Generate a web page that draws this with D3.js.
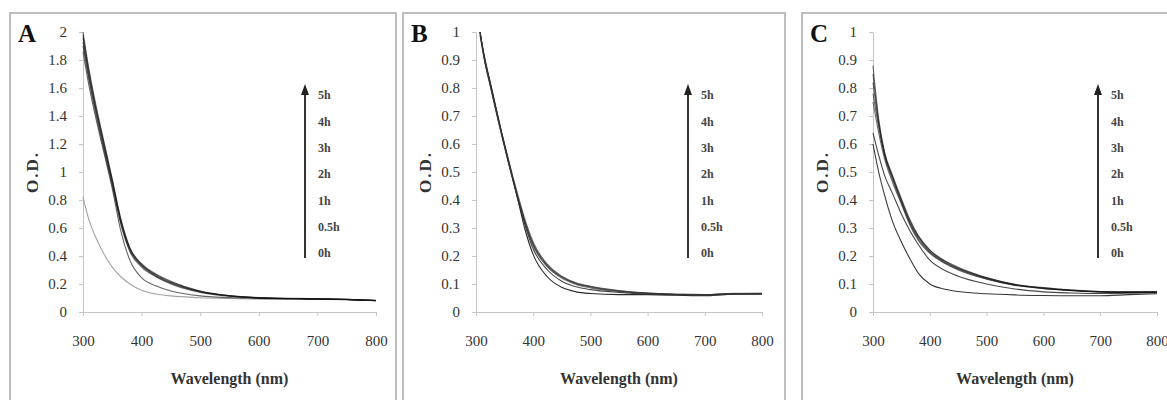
<!DOCTYPE html>
<html>
<head>
<meta charset="utf-8">
<script src="https://cdn.jsdelivr.net/npm/d3@7"></script>
<style>
  body { margin: 0; background: #fff; }
  svg { display: block; }
  svg text { font-family: "Liberation Serif", "Times New Roman", Times, serif; }
</style>
</head>
<body>
<div id="chart"></div>
<script>
const hours = ["0h", "0.5h", "1h", "2h", "3h", "4h", "5h"];
const xTicks = [300, 400, 500, 600, 700, 800];
const yTicksA = [0, 0.2, 0.4, 0.6, 0.8, 1, 1.2, 1.4, 1.6, 1.8, 2];
const yTicksBC = [0, 0.1, 0.2, 0.3, 0.4, 0.5, 0.6, 0.7, 0.8, 0.9, 1];

// panel A, one row per hour (0h .. 5h)
const wavelengthA = [300, 310, 320, 335, 350, 365, 380, 400, 425, 450, 500, 550, 600, 700, 750, 800];
const odA = [
  [0.82, 0.66, 0.55, 0.42, 0.32, 0.25, 0.2, 0.155, 0.128, 0.115, 0.102, 0.096, 0.092, 0.09, 0.088, 0.082],
  [1.86, 1.62, 1.42, 1.15, 0.88, 0.57, 0.37, 0.245, 0.185, 0.15, 0.115, 0.103, 0.097, 0.092, 0.088, 0.08],
  [1.9, 1.66, 1.45, 1.17, 0.9, 0.62, 0.43, 0.32, 0.25, 0.2, 0.14, 0.112, 0.1, 0.093, 0.089, 0.08],
  [1.93, 1.68, 1.47, 1.19, 0.92, 0.63, 0.44, 0.33, 0.255, 0.205, 0.143, 0.114, 0.101, 0.093, 0.089, 0.081],
  [1.96, 1.7, 1.49, 1.2, 0.93, 0.64, 0.45, 0.335, 0.26, 0.21, 0.146, 0.115, 0.102, 0.094, 0.09, 0.082],
  [1.98, 1.72, 1.5, 1.22, 0.94, 0.65, 0.455, 0.34, 0.265, 0.215, 0.148, 0.116, 0.102, 0.094, 0.09, 0.082],
  [2.0, 1.74, 1.52, 1.23, 0.95, 0.66, 0.46, 0.345, 0.27, 0.22, 0.15, 0.117, 0.103, 0.095, 0.09, 0.083]
];

// panel B
const wavelengthB = [307, 315, 325, 335, 345, 355, 365, 375, 385, 400, 425, 450, 475, 500, 550, 600, 700, 750, 800];
const odB = [
  [1.0, 0.91, 0.82, 0.73, 0.64, 0.555, 0.47, 0.385, 0.3, 0.205, 0.125, 0.088, 0.072, 0.066, 0.062, 0.062, 0.058, 0.064, 0.064],
  [1.0, 0.905, 0.815, 0.725, 0.635, 0.55, 0.47, 0.39, 0.315, 0.225, 0.15, 0.11, 0.09, 0.08, 0.07, 0.064, 0.06, 0.064, 0.065],
  [0.99, 0.9, 0.81, 0.72, 0.63, 0.545, 0.465, 0.39, 0.32, 0.235, 0.16, 0.12, 0.098, 0.086, 0.073, 0.066, 0.061, 0.065, 0.065],
  [1.0, 0.9, 0.81, 0.72, 0.635, 0.55, 0.47, 0.395, 0.325, 0.24, 0.163, 0.123, 0.1, 0.088, 0.074, 0.067, 0.061, 0.065, 0.066],
  [0.99, 0.895, 0.805, 0.715, 0.63, 0.55, 0.47, 0.395, 0.325, 0.24, 0.165, 0.125, 0.102, 0.09, 0.075, 0.067, 0.062, 0.066, 0.066],
  [1.0, 0.9, 0.81, 0.72, 0.635, 0.555, 0.475, 0.4, 0.33, 0.245, 0.168, 0.127, 0.103, 0.091, 0.076, 0.068, 0.062, 0.066, 0.067],
  [1.0, 0.905, 0.815, 0.725, 0.64, 0.56, 0.48, 0.405, 0.335, 0.25, 0.17, 0.128, 0.104, 0.092, 0.077, 0.068, 0.062, 0.067, 0.067]
];

// panel C
const wavelengthC = [300, 310, 320, 335, 350, 365, 380, 400, 425, 450, 500, 550, 600, 650, 700, 750, 800];
const odC = [
  [0.6, 0.5, 0.42, 0.32, 0.25, 0.19, 0.138, 0.1, 0.082, 0.073, 0.065, 0.061, 0.059, 0.058, 0.058, 0.062, 0.065],
  [0.64, 0.56, 0.49, 0.42, 0.35, 0.29, 0.24, 0.185, 0.15, 0.128, 0.1, 0.082, 0.072, 0.068, 0.066, 0.067, 0.069],
  [0.75, 0.64, 0.55, 0.46, 0.385, 0.31, 0.255, 0.21, 0.175, 0.15, 0.117, 0.095, 0.083, 0.076, 0.071, 0.07, 0.07],
  [0.78, 0.66, 0.56, 0.47, 0.39, 0.315, 0.26, 0.213, 0.178, 0.153, 0.119, 0.096, 0.084, 0.077, 0.072, 0.07, 0.071],
  [0.82, 0.67, 0.565, 0.475, 0.395, 0.32, 0.265, 0.216, 0.18, 0.155, 0.12, 0.097, 0.085, 0.077, 0.072, 0.071, 0.071],
  [0.85, 0.68, 0.57, 0.48, 0.4, 0.325, 0.27, 0.22, 0.183, 0.157, 0.122, 0.098, 0.086, 0.078, 0.073, 0.071, 0.072],
  [0.88, 0.69, 0.575, 0.485, 0.405, 0.33, 0.272, 0.222, 0.185, 0.16, 0.123, 0.099, 0.087, 0.078, 0.073, 0.072, 0.072]
];

const width = 1167, height = 400;
const plotTop = 32, plotBottom = 312;

const panels = [
  { letter: "A", wl: wavelengthA, od: odA, yMax: 2, yTicks: yTicksA,
    frame: [10, 13, 386, 400], x0: 83, x1: 376, arrowX: 305,
    colors: ["#999", "#555", "#111", "#111", "#111", "#111", "#111"] },
  { letter: "B", wl: wavelengthB, od: odB, yMax: 1, yTicks: yTicksBC,
    frame: [403, 13, 382, 400], x0: 476, x1: 762, arrowX: 688,
    colors: ["#111", "#333", "#333", "#333", "#333", "#333", "#333"] },
  { letter: "C", wl: wavelengthC, od: odC, yMax: 1, yTicks: yTicksBC,
    frame: [802, 13, 380, 400], x0: 873, x1: 1157, arrowX: 1098,
    colors: ["#222", "#333", "#111", "#111", "#111", "#111", "#111"] }
];

const svg = d3.select("#chart")
  .append("svg")
  .attr("width", width)
  .attr("height", height);

panels.forEach((p) => {
  svg.append("rect")
    .attr("x", p.frame[0])
    .attr("y", p.frame[1])
    .attr("width", p.frame[2])
    .attr("height", p.frame[3])
    .attr("fill", "none")
    .attr("stroke", "#b8b8b8")
    .attr("stroke-width", 1.8);

  const x = d3.scaleLinear().domain([300, 800]).range([p.x0, p.x1]);
  const y = d3.scaleLinear().domain([0, p.yMax]).range([plotBottom, plotTop]);

  const gy = svg.append("g")
    .attr("transform", `translate(${p.x0},0)`)
    .call(d3.axisLeft(y).tickValues(p.yTicks).tickSize(4).tickSizeOuter(0)
      .tickPadding(12).tickFormat(d3.format("~g")))
    .attr("font-family", null)
    .attr("font-size", 15);
  gy.select(".domain").attr("stroke", "#c4c4c4");
  gy.selectAll(".tick line").attr("stroke", "#c4c4c4");
  gy.selectAll(".tick text").attr("fill", "#333");

  const gx = svg.append("g")
    .attr("transform", `translate(0,${plotBottom})`)
    .call(d3.axisBottom(x).tickValues(xTicks).tickSize(4).tickSizeOuter(0).tickPadding(19))
    .attr("font-family", null)
    .attr("font-size", 15);
  gx.select(".domain").attr("stroke", "#c4c4c4");
  gx.selectAll(".tick line").attr("stroke", "#c4c4c4");
  gx.selectAll(".tick text").attr("fill", "#333");

  const line = d3.line()
    .x((d, i) => x(p.wl[i]))
    .y((d) => y(d))
    .curve(d3.curveMonotoneX);

  svg.append("g")
    .selectAll("path")
    .data(p.od)
    .enter()
    .append("path")
    .attr("d", line)
    .attr("fill", "none")
    .attr("stroke", (d, i) => p.colors[i])
    .attr("stroke-width", 1.1)
    .attr("stroke-opacity", (d, i) => (i < 2 ? 0.9 : 0.6));

  // time arrow and labels
  const ly = d3.scalePoint().domain(hours).range([253, 95]);
  svg.append("line")
    .attr("x1", p.arrowX).attr("x2", p.arrowX)
    .attr("y1", 258).attr("y2", 92)
    .attr("stroke", "#333")
    .attr("stroke-width", 2);
  svg.append("path")
    .attr("d", `M${p.arrowX - 4},95 L${p.arrowX},84 L${p.arrowX + 4},95 Z`)
    .attr("fill", "#222");
  svg.append("g")
    .selectAll("text")
    .data(hours)
    .enter()
    .append("text")
    .attr("x", p.arrowX + 13)
    .attr("y", (d) => ly(d))
    .attr("dy", "0.35em")
    .attr("font-size", 12)
    .attr("font-weight", "bold")
    .attr("fill", "#444")
    .text((d) => d);

  svg.append("text")
    .attr("x", p.frame[0] + 8)
    .attr("y", 42)
    .attr("font-size", 25)
    .attr("font-weight", "bold")
    .attr("fill", "#111")
    .text(p.letter);

  svg.append("text")
    .attr("x", (p.x0 + p.x1) / 2)
    .attr("y", 384)
    .attr("text-anchor", "middle")
    .attr("font-size", 16)
    .attr("font-weight", "bold")
    .attr("fill", "#333")
    .text("Wavelength (nm)");

  svg.append("text")
    .attr("transform", `translate(${p.x0 - 51},${(plotTop + plotBottom) / 2}) rotate(-90)`)
    .attr("text-anchor", "middle")
    .attr("dy", "0.35em")
    .attr("font-size", 17)
    .attr("font-weight", "bold")
    .attr("letter-spacing", 2)
    .attr("fill", "#333")
    .text("O.D.");
});
</script>
</body>
</html>
